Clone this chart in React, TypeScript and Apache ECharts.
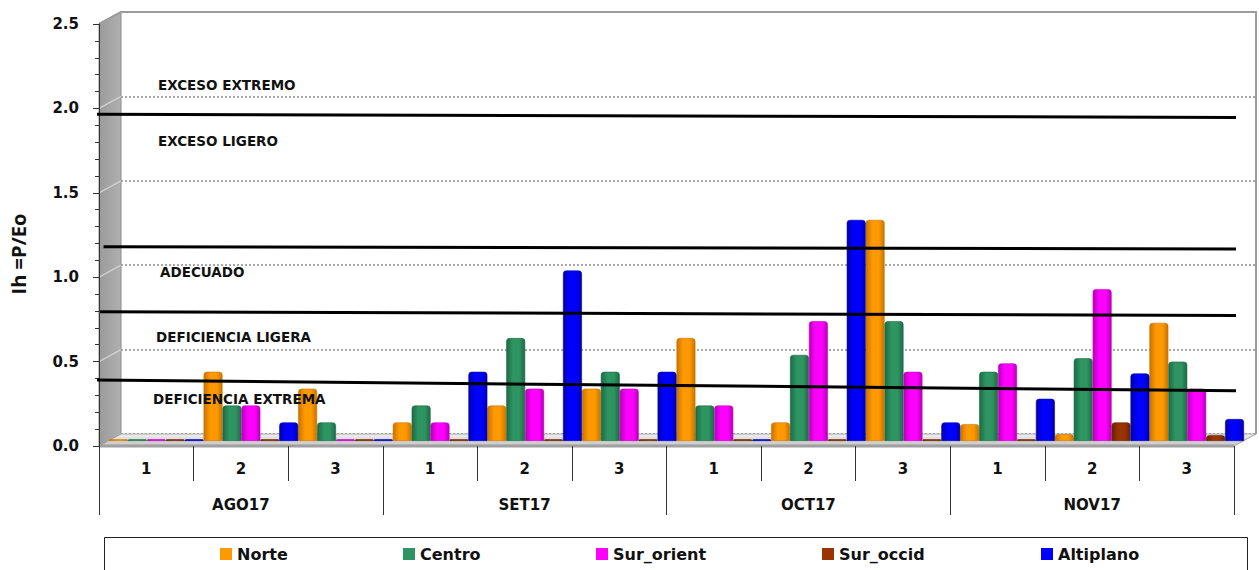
import React, { useEffect, useRef } from 'react';
import * as echarts from 'echarts';

// ---------- DATA ----------
const dekads = ['1', '2', '3', '1', '2', '3', '1', '2', '3', '1', '2', '3'];
const months = ['AGO17', 'SET17', 'OCT17', 'NOV17'];
const seriesNames = ['Norte', 'Centro', 'Sur_orient', 'Sur_occid', 'Altiplano'];

const norte = [0.01, 0.41, 0.31, 0.11, 0.21, 0.31, 0.61, 0.11, 1.31, 0.1, 0.04, 0.7];
const centro = [0.01, 0.21, 0.11, 0.21, 0.61, 0.41, 0.21, 0.51, 0.71, 0.41, 0.49, 0.47];
const surOrient = [0.01, 0.21, 0.01, 0.11, 0.31, 0.31, 0.21, 0.71, 0.41, 0.46, 0.9, 0.31];
const surOccid = [0.01, 0.01, 0.01, 0.01, 0.01, 0.01, 0.01, 0.01, 0.01, 0.01, 0.11, 0.035];
const altiplano = [0.01, 0.11, 0.01, 0.41, 1.01, 0.41, 0.01, 1.31, 0.11, 0.25, 0.4, 0.13];

const yMin = 0;
const yMax = 2.5;
const yInterval = 0.5;

// threshold lines (value at left end, value at right end)
const thresholdStartX = [-0.002, 0.004, 0.001, -0.002];
const thresholdEndX = [1.022, 1.022, 1.022, 1.022];
const thresholdStartY = [1.965, 1.181, 0.796, 0.391];
const thresholdEndY = [1.946, 1.167, 0.772, 0.326];

// zone labels
const zoneLabels = ['EXCESO EXTREMO', 'EXCESO LIGERO', 'ADECUADO', 'DEFICIENCIA LIGERA', 'DEFICIENCIA EXTREMA'];
const zoneLabelValues = [2.139, 1.807, 1.028, 0.643, 0.278];

const yTitle = 'Ih =P/Eo';

// ---------- STYLE / LAYOUT ----------
const baseColors = ['#FF9900', '#2E9462', '#FF00FF', '#993300', '#0000FF'];
const darkColors = ['#C87400', '#1D6A44', '#B800B8', '#662200', '#0000A8'];
const legendLefts = [220, 403, 596, 822, 1041];
const zoneLabelX = [158, 158, 160, 156, 153];

const FRONT = { left: 99, top: 24, width: 1135, height: 422 };
const DX = 22;
const DY = 12;
const BAR_SHIFT_X = 10;
const BAR_SHIFT_Y = 5;
const FONT = '"DejaVu Sans", Verdana, sans-serif';

const yF = (v: number) => FRONT.top + FRONT.height * (1 - (v - yMin) / (yMax - yMin));

function buildOption() {
  const L = FRONT.left;
  const R = FRONT.left + FRONT.width;
  const T = FRONT.top;
  const B = FRONT.top + FRONT.height;
  const seriesData = [norte, centro, surOrient, surOccid, altiplano];

  const graphics: any[] = [];
  // side wall
  graphics.push({
    type: 'polygon',
    z: 1,
    shape: { points: [[L, T], [L + DX, T - DY], [L + DX, B - DY], [L, B]] },
    style: {
      fill: new echarts.graphic.LinearGradient(0, 0, 1, 0, [
        { offset: 0, color: '#9a9a9a' },
        { offset: 1, color: '#b0b0b0' },
      ]),
      stroke: '#8c8c8c',
      lineWidth: 1,
    },
  });
  // side-wall connectors
  for (let v = yMin; v <= yMax + 1e-9; v += yInterval) {
    if (v === yMin) continue;
    graphics.push({
      type: 'line',
      z: 1,
      shape: { x1: L, y1: yF(v), x2: L + DX, y2: yF(v) - DY },
      style: { stroke: '#cfcfcf', lineWidth: 1.5 },
    });
  }
  // floor
  graphics.push({
    type: 'polygon',
    z: 1,
    shape: { points: [[L, B], [L + DX, B - DY], [R + DX, B - DY], [R, B]] },
    style: {
      fill: new echarts.graphic.LinearGradient(0, 0, 0, 1, [
        { offset: 0, color: '#f0f0f0' },
        { offset: 1, color: '#c4c4c4' },
      ]),
      stroke: '#a6a6a6',
      lineWidth: 1,
    },
  });
  graphics.push({
    type: 'line',
    z: 1,
    shape: { x1: L, y1: B, x2: R, y2: B },
    style: { stroke: '#a0a0a0', lineWidth: 3 },
  });
  // back wall border
  graphics.push({
    type: 'polyline',
    z: 1,
    shape: { points: [[L, T], [L + DX, T - DY], [R + DX, T - DY], [R + DX, B - DY]] },
    style: { stroke: '#9c9c9c', lineWidth: 2, fill: null },
  });
  // zone labels
  zoneLabels.forEach((t, i) => {
    graphics.push({
      type: 'text',
      z: 10,
      x: zoneLabelX[i],
      y: yF(zoneLabelValues[i]),
      style: {
        text: t,
        fill: '#111',
        font: `bold 13.5px ${FONT}`,
        align: 'left',
        verticalAlign: 'middle',
      },
    });
  });
  // y title
  graphics.push({
    type: 'text',
    z: 10,
    x: 18,
    y: 254,
    rotation: Math.PI / 2,
    style: {
      text: yTitle,
      fill: '#111',
      font: 'bold 20px "Open Sans", "Liberation Sans", sans-serif',
      align: 'center',
      verticalAlign: 'middle',
    },
  });
  // legend box
  graphics.push({
    type: 'rect',
    z: 10,
    shape: { x: 104.5, y: 537.5, width: 1143, height: 45 },
    style: { fill: null, stroke: '#222', lineWidth: 1 },
  });

  const barSeries = seriesNames.map((name, i) => ({
    name,
    type: 'bar',
    xAxisIndex: 3,
    yAxisIndex: 1,
    data: seriesData[i],
    barGap: '0%',
    barCategoryGap: '0%',
    z: 2,
    itemStyle: {
      color: new echarts.graphic.LinearGradient(0, 0, 1, 0, [
        { offset: 0, color: darkColors[i] },
        { offset: 0.35, color: baseColors[i] },
        { offset: 0.7, color: baseColors[i] },
        { offset: 1, color: darkColors[i] },
      ]),
      borderColor: darkColors[i],
      borderWidth: 0.6,
      borderRadius: [3, 3, 0, 0],
    },
  }));

  const lineSeries = thresholdStartY.map((y0, i) => ({
    name: 'lim' + i,
    type: 'line',
    xAxisIndex: 2,
    yAxisIndex: 0,
    data: [
      [thresholdStartX[i], y0],
      [thresholdEndX[i], thresholdEndY[i]],
    ],
    symbol: 'none',
    clip: false,
    silent: true,
    z: 5,
    lineStyle: { color: '#000', width: 3 },
  }));

  const labelText = { color: '#111', fontFamily: FONT, fontWeight: 'bold' as const, fontSize: 15 };

  return {
    animation: false,
    backgroundColor: '#fff',
    grid: [
      { left: L, top: T, width: FRONT.width, height: FRONT.height },
      { left: L + BAR_SHIFT_X, top: T - BAR_SHIFT_Y, width: FRONT.width, height: FRONT.height },
      { left: L + DX, top: T - DY, width: FRONT.width, height: FRONT.height },
    ],
    legend: seriesNames.map((name, i) => ({
      data: [{ name, itemStyle: { color: baseColors[i], borderWidth: 0 } }],
      left: legendLefts[i],
      top: 546,
      padding: 0,
      itemWidth: 12,
      itemHeight: 12,
      itemGap: 5,
      icon: 'rect',
      selectedMode: false,
      itemStyle: { borderWidth: 0 },
      textStyle: { color: '#111', fontFamily: FONT, fontWeight: 'bold', fontSize: 16, padding: [0, 0, 0, 0] },
    })),
    xAxis: [
      {
        type: 'category',
        gridIndex: 0,
        data: dekads,
        position: 'bottom',
        z: 3,
        axisLine: { show: false, onZero: false },
        axisTick: { show: true, interval: 0, length: 35, lineStyle: { color: '#333', width: 1 } },
        axisLabel: { ...labelText, interval: 0, margin: 15 },
        splitLine: { show: false },
      },
      {
        type: 'category',
        gridIndex: 0,
        data: months,
        position: 'bottom',
        z: 3,
        axisLine: { show: false, onZero: false },
        axisTick: { show: true, interval: 0, length: 69, lineStyle: { color: '#333', width: 1 } },
        axisLabel: { ...labelText, interval: 0, margin: 51 },
        splitLine: { show: false },
      },
      { type: 'value', gridIndex: 0, min: 0, max: 1, show: false },
      { type: 'category', gridIndex: 1, data: dekads, show: false },
      { type: 'category', gridIndex: 2, data: dekads, show: false },
    ],
    yAxis: [
      {
        type: 'value',
        gridIndex: 0,
        min: yMin,
        max: yMax,
        interval: yInterval,
        z: 3,
        axisLine: { show: true, lineStyle: { color: '#333', width: 1 } },
        axisTick: { show: true, length: 6, lineStyle: { color: '#333' } },
        minorTick: { show: true, splitNumber: 5, length: 4, lineStyle: { color: '#333' } },
        axisLabel: { ...labelText, margin: 20, formatter: (v: number) => v.toFixed(1) },
        splitLine: { show: false },
      },
      { type: 'value', gridIndex: 1, min: yMin, max: yMax, interval: yInterval, show: false },
      {
        type: 'value',
        gridIndex: 2,
        min: yMin,
        max: yMax,
        interval: yInterval,
        axisLine: { show: false },
        axisTick: { show: false },
        axisLabel: { show: false },
        splitLine: { show: true, lineStyle: { color: '#a8a8a8', width: 2, type: [2, 2] } },
      },
    ],
    graphic: { elements: graphics },
    series: [...barSeries, ...lineSeries],
  };
}

export default function App() {
  const ref = useRef<HTMLDivElement>(null);
  useEffect(() => {
    if (!ref.current) return;
    const chart = echarts.init(ref.current, null, { renderer: 'svg' });
    chart.setOption(buildOption() as any);
    return () => chart.dispose();
  }, []);
  return (
    <div
      ref={ref}
      style={{ position: 'fixed', left: 0, top: 0, width: '1259px', height: '570px', background: '#fff' }}
    />
  );
}
